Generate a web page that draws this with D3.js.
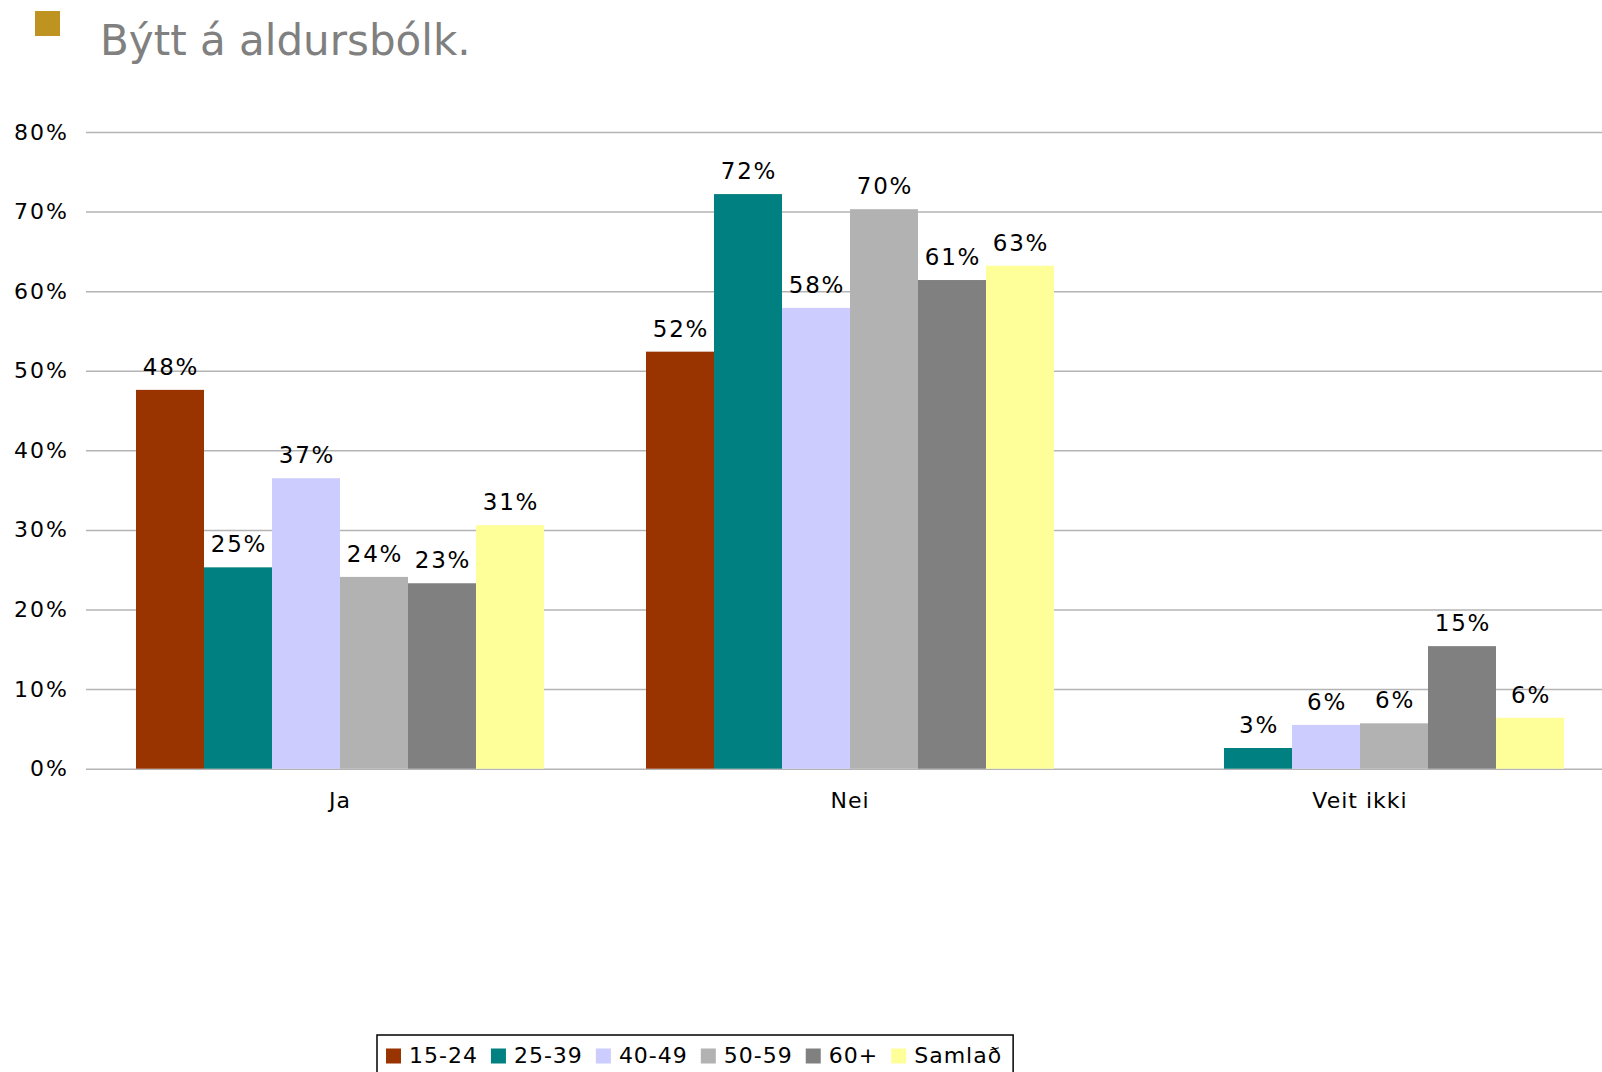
<!DOCTYPE html>
<html>
<head>
<meta charset="utf-8">
<script src="https://cdn.jsdelivr.net/npm/d3@7"></script>
<style>
  body { margin: 0; background: #fff; }
  svg text { font-family: "DejaVu Sans", Verdana, sans-serif; }
</style>
</head>
<body>
<div class="chart"></div>
<script>
var svgWidth = 1602;
var svgHeight = 1072;

// data
var categories = ["Ja", "Nei", "Veit ikki"];
var groups = ["15-24", "25-39", "40-49", "50-59", "60+", "Samlað"];
var colors = ["#993300", "#008080", "#CCCCFF", "#B2B2B2", "#808080", "#FFFF99"];
var values = [
  [0.476, 0.524, null],   // 15-24
  [0.253, 0.722, 0.026],  // 25-39
  [0.365, 0.579, 0.055],  // 40-49
  [0.241, 0.703, 0.057],  // 50-59
  [0.233, 0.614, 0.154],  // 60+
  [0.306, 0.632, 0.064]   // Samlað
];
var yTicks = [0, 0.1, 0.2, 0.3, 0.4, 0.5, 0.6, 0.7, 0.8];

var plot = { left: 85, right: 1615, top: 132, bottom: 768.7 };

var svg = d3.select(".chart")
  .append("svg")
  .attr("width", svgWidth)
  .attr("height", svgHeight);

// title
svg.append("rect")
  .attr("x", 35).attr("y", 11)
  .attr("width", 25).attr("height", 25)
  .attr("fill", "#BE931F");

svg.append("text")
  .attr("x", 100).attr("y", 55)
  .attr("font-size", 42)
  .attr("fill", "#808080")
  .text("Býtt á aldursbólk.");

// scales
var x0 = d3.scaleBand()
  .domain(categories)
  .range([plot.left, plot.right])
  .paddingInner(0.2)
  .paddingOuter(0.1);

var x1 = d3.scaleBand()
  .domain(groups)
  .range([0, x0.bandwidth()]);

var y = d3.scaleLinear()
  .domain([0, 0.8])
  .range([plot.bottom, plot.top]);

// y axis with gridlines
var yAxis = svg.append("g")
  .attr("transform", "translate(86,0)")
  .call(d3.axisLeft(y)
    .tickValues(yTicks)
    .tickFormat(d3.format(".0%"))
    .tickSize(-(svgWidth - 86))
    .tickPadding(17));

yAxis.select(".domain").remove();
yAxis.selectAll(".tick line")
  .attr("stroke", "#b4b4b4")
  .attr("stroke-width", 1.5);
yAxis.selectAll(".tick text")
  .attr("font-size", 22)
  .attr("fill", "#000")
  .attr("letter-spacing", "2px")
  .attr("font-family", "DejaVu Sans, Verdana, sans-serif");

// bars
var barData = [];
groups.forEach(function(g, gi) {
  categories.forEach(function(c, ci) {
    if (values[gi][ci] !== null) {
      barData.push({ group: g, cat: c, value: values[gi][ci], color: colors[gi] });
    }
  });
});

var chartGroup = svg.append("g");

chartGroup.selectAll("rect.bar")
  .data(barData)
  .enter()
  .append("rect")
  .attr("class", "bar")
  .attr("x", d => x0(d.cat) + x1(d.group))
  .attr("y", d => y(d.value))
  .attr("width", x1.bandwidth())
  .attr("height", d => y(0) - y(d.value))
  .attr("fill", d => d.color);

chartGroup.selectAll("text.lbl")
  .data(barData)
  .enter()
  .append("text")
  .attr("class", "lbl")
  .attr("x", d => x0(d.cat) + x1(d.group) + x1.bandwidth() / 2 + 1)
  .attr("y", d => y(d.value) - 15)
  .attr("text-anchor", "middle")
  .attr("font-size", 23)
  .attr("letter-spacing", "1.8px")
  .attr("fill", "#000")
  .text(d => d3.format(".0%")(d.value));

// x axis labels
svg.append("g")
  .selectAll("text")
  .data(categories)
  .enter()
  .append("text")
  .attr("x", d => x0(d) + x0.bandwidth() / 2)
  .attr("y", 808)
  .attr("text-anchor", "middle")
  .attr("font-size", 22)
  .attr("letter-spacing", "1px")
  .attr("fill", "#000")
  .text(d => d);

// legend
var legend = svg.append("g");
var legendBox = legend.append("rect")
  .attr("x", 377).attr("y", 1035)
  .attr("height", 60)
  .attr("fill", "#fff")
  .attr("stroke", "#000")
  .attr("stroke-width", 1.5);

var lx = 386;
groups.forEach(function(g, i) {
  legend.append("rect")
    .attr("x", lx).attr("y", 1048.5)
    .attr("width", 15).attr("height", 15)
    .attr("fill", colors[i]);
  var t = legend.append("text")
    .attr("x", lx + 23).attr("y", 1063)
    .attr("font-size", 22)
    .attr("letter-spacing", "1px")
    .attr("fill", "#000")
    .text(g);
  lx = lx + 23 + t.node().getComputedTextLength() + 13;
});
legendBox.attr("width", lx - 13 + 11 - 377);
</script>
</body>
</html>
